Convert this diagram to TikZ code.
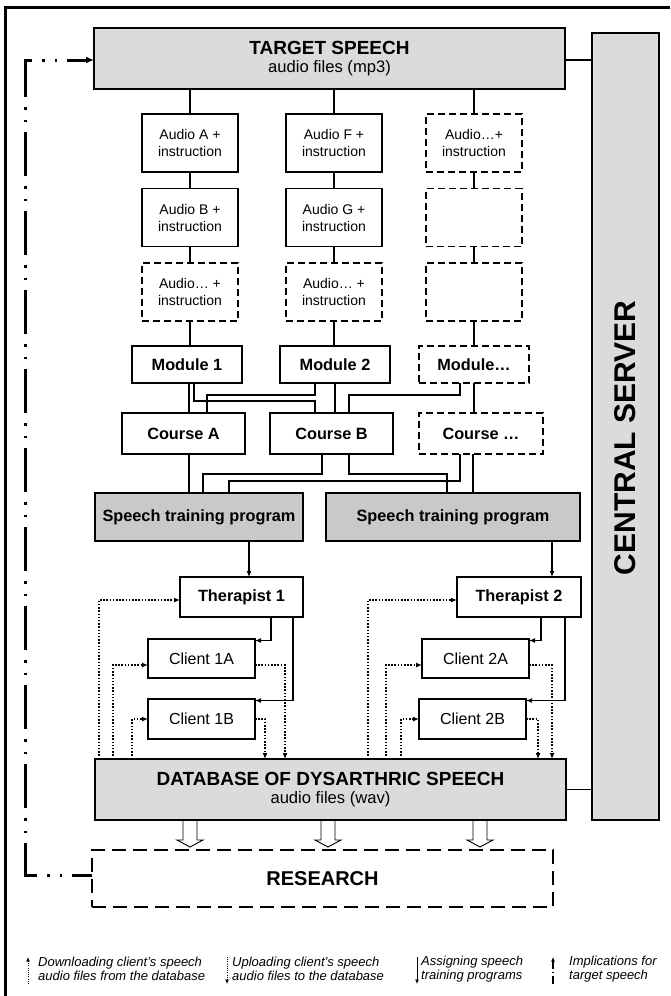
\documentclass[tikz,border=0pt]{standalone}
\usepackage{fontspec}
\setmainfont{Liberation Sans}
\usepackage{tikz}
\usetikzlibrary{arrows.meta, positioning, calc}

\definecolor{boxgrey}{gray}{0.86}
\definecolor{progrey}{gray}{0.79}

\tikzset{
  box/.style={draw, line width=1.2pt, inner sep=0pt, outer sep=0pt, align=center},
  dashbox/.style={dash pattern=on 7pt off 4pt},
  audiobox/.style={box, minimum width=96pt, minimum height=58pt, font=\fontsize{14}{17}\selectfont},
  modbox/.style={box, minimum width=110pt, minimum height=37pt, font=\fontsize{16.3}{19}\selectfont\bfseries},
  coursebox/.style={box, minimum width=123pt, minimum height=41pt, font=\fontsize{16.3}{19}\selectfont\bfseries},
  progbox/.style={box, fill=progrey, minimum height=48pt, font=\fontsize{16.3}{19}\selectfont\bfseries},
  therbox/.style={box, minimum width=123pt, minimum height=40pt, font=\fontsize{16.3}{19}\selectfont\bfseries},
  clientbox/.style={box, minimum width=107pt, minimum height=40pt, font=\fontsize{16}{19}\selectfont},
  mainbox/.style={box, fill=boxgrey, minimum width=471pt, minimum height=61pt, font=\fontsize{16.6}{18.5}\selectfont},
  link/.style={line width=1.2pt},
  assign/.style={link, -{Latex[length=6pt,width=5pt]}},
  download/.style={line width=1.5pt, dash pattern=on 1.5pt off 1.7pt, -{Latex[length=6pt,width=5pt]}},
  implication/.style={line width=3pt, dash pattern=on 44pt off 10pt on 2.5pt off 10pt on 2.5pt off 10pt, dash phase=24pt, -{Latex[length=8pt,width=7pt]}},
  legend/.style={anchor=west, align=left, inner sep=0pt, font=\fontsize{13}{14.5}\selectfont\itshape},
  keytip/.style={-{Latex[length=4.5pt,width=4pt]}},
}

\begin{document}
\begin{tikzpicture}[x=1pt, y=-1pt]
  \useasboundingbox (0,0) rectangle (670,996);
  % page frame
  \draw[line width=3pt] (5,996) -- (5,7) -- (670,7);

  % target speech, server, database, research
  \node[mainbox] (tgt) at (329.5,58.5) {{\fontsize{19}{18.5}\selectfont\bfseries TARGET SPEECH}\\audio files (mp3)};
  \node[box, fill=boxgrey, minimum width=67pt, minimum height=787pt] (srv) at (625.5,426.5) {};
  \node[rotate=90, font=\fontsize{30}{30}\selectfont\bfseries] (srvtext) at (625.5,438) {CENTRAL SERVER};
  \node[mainbox] (db) at (330.5,789.5) {{\fontsize{19}{18.5}\selectfont\bfseries DATABASE OF DYSARTHRIC SPEECH}\\audio files (wav)};
  \node[box, dash pattern=on 14pt off 7pt, minimum width=461pt, minimum height=57pt, font=\fontsize{20}{20}\selectfont\bfseries] (res) at (322.5,878.5) {RESEARCH};

  % audio files
  \node[audiobox] (aud11) at (190,143) {Audio A +\\instruction};
  \node[audiobox] (aud12) at (190,217.5) {Audio B +\\instruction};
  \node[audiobox, dashbox] (aud13) at (190,292) {Audio… +\\instruction};
  \node[audiobox] (aud21) at (334,143) {Audio F +\\instruction};
  \node[audiobox] (aud22) at (334,217.5) {Audio G +\\instruction};
  \node[audiobox, dashbox] (aud23) at (334,292) {Audio… +\\instruction};
  \node[audiobox, dashbox] (aud31) at (474,143) {Audio…+\\instruction};
  \node[audiobox, dashbox] (aud32) at (474,217.5) {};
  \node[audiobox, dashbox] (aud33) at (474,292) {};

  % modules and courses
  \node[modbox] (mod1) at (187,364.5) {Module 1};
  \node[modbox] (mod2) at (335,364.5) {Module 2};
  \node[modbox, dashbox] (modx) at (474,364.5) {Module…};
  \node[coursebox] (crsA) at (183.5,433.5) {Course A};
  \node[coursebox] (crsB) at (331.5,433.5) {Course B};
  \node[coursebox, dashbox, minimum width=124pt] (crsx) at (481,433.5) {Course …};

  % programs, therapists, clients
  \node[progbox, minimum width=208pt] (prog1) at (199,517) {Speech training program};
  \node[progbox, minimum width=254pt] (prog2) at (453,517) {Speech training program};
  \node[therbox] (ther1) at (241.5,597) {Therapist 1};
  \node[therbox, minimum width=124pt] (ther2) at (519,597) {Therapist 2};
  \node[clientbox, minimum height=39pt] (cl1a) at (201.5,658.5) {Client 1A};
  \node[clientbox] (cl1b) at (201.5,719) {Client 1B};
  \node[clientbox, minimum height=39pt] (cl2a) at (475.5,658.5) {Client 2A};
  \node[clientbox] (cl2b) at (472.5,719) {Client 2B};

  % target speech down the audio columns
  \foreach \c/\m in {1/mod1, 2/mod2, 3/modx} {
    \draw[link] (tgt.south -| aud\c1.north) -- (aud\c1.north);
    \draw[link] (aud\c1.south) -- (aud\c2.north);
    \draw[link] (aud\c2.south) -- (aud\c3.north);
    \draw[link] (aud\c3.south) -- (aud\c3.south |- \m.north);
  }

  % modules into courses
  \draw[link] ([xshift=2pt]mod1.south) -- ([xshift=2pt]mod1.south |- crsA.north);
  \draw[link] ([xshift=7pt]mod1.south) |- ([xshift=-16.5pt,yshift=12pt]crsB.north) -- ([xshift=-16.5pt]crsB.north);
  \draw[link] ([xshift=-20pt]mod2.south) |- ([xshift=23.5pt,yshift=18pt]crsA.north) -- ([xshift=23.5pt]crsA.north);
  \draw[link] (mod2.south) -- (mod2.south |- crsB.north);
  \draw[link] ([xshift=-14pt]modx.south) |- ([xshift=17.5pt,yshift=18pt]crsB.north) -- ([xshift=17.5pt]crsB.north);
  \draw[link] (modx.south) -- (modx.south |- crsx.north);

  % courses into programs
  \draw[link] ([xshift=5.5pt]crsA.south) -- ([xshift=5.5pt]crsA.south |- prog1.north);
  \draw[link] ([xshift=-9.5pt]crsB.south) |- ([xshift=4pt,yshift=19pt]prog1.north) -- ([xshift=4pt]prog1.north);
  \draw[link] ([xshift=17.5pt]crsB.south) |- ([xshift=-6pt,yshift=19pt]prog2.north) -- ([xshift=-6pt]prog2.north);
  \draw[link] ([xshift=-21pt]crsx.south) |- ([xshift=30pt,yshift=12pt]prog1.north) -- ([xshift=30pt]prog1.north);
  \draw[link] ([xshift=-8pt]crsx.south) -- ([xshift=-8pt]crsx.south |- prog2.north);

  % assigning programs
  \draw[assign] ([xshift=7.5pt]ther1.north |- prog1.south) -- ([xshift=7.5pt]ther1.north);
  \draw[assign] ([xshift=33pt]ther2.north |- prog2.south) -- ([xshift=33pt]ther2.north);
  \draw[assign] ([xshift=29.5pt]ther1.south) |- ([yshift=-1.5pt]cl1a.north east);
  \draw[assign] ([xshift=51.5pt]ther1.south) |- ([yshift=-1.5pt]cl1b.north east);
  \draw[assign] ([xshift=22pt]ther2.south) |- ([yshift=-1.5pt]cl2a.north east);
  \draw[assign] ([xshift=46pt]ther2.south) |- ([yshift=-1.5pt]cl2b.north east);

  % downloading from the database
  \draw[download] ([xshift=4pt]db.north west) |- ([yshift=-3pt]ther1.west);
  \draw[download] ([xshift=18pt]db.north west) |- ([yshift=-6.5pt]cl1a.west);
  \draw[download] ([xshift=37pt]db.north west) |- (cl1b.west);
  \draw[download] ([xshift=273pt]db.north west) |- ([yshift=-3pt]ther2.west);
  \draw[download] ([xshift=291pt]db.north west) |- ([yshift=-6.5pt]cl2a.west);
  \draw[download] ([xshift=306pt]db.north west) |- (cl2b.west);

  % uploading to the database
  \draw[download] ([yshift=-6.5pt]cl1a.east) -| ([xshift=190pt]db.north west);
  \draw[download] (cl1b.east) -| ([xshift=170pt]db.north west);
  \draw[download] ([yshift=-6.5pt]cl2a.east) -| ([xshift=457pt]db.north west);
  \draw[download] (cl2b.east) -| ([xshift=443pt]db.north west);

  % central server links
  \draw[link] ([yshift=-1.5pt]tgt.east) -- ([yshift=-1.5pt]tgt.east -| srv.west);
  \draw[link] (db.east) -- (db.east -| srv.west);

  % database to research
  \foreach \dx in {-140.5,-2.5,149.5}
    \draw[line width=0.9pt, fill=white] ($(db.south)+(\dx-7,1)$) -- ++(0,19) -- ++(-6,0) -- ++(13,7) -- ++(13,-7) -- ++(-6,0) -- ++(0,-19);

  % implications for target speech
  \draw[implication] ([yshift=3.5pt]res.west) -- ++(-67,0) |- ([yshift=-1.5pt]tgt.west);

  % legend
  \node[legend] (key1) at (38,969) {Downloading client's speech\\audio files from the database};
  \node[legend] (key2) at (232,969) {Uploading client's speech\\audio files to the database};
  \node[legend] (key3) at (421,969) {Assigning speech\\training programs};
  \node[legend] (key4) at (569,969) {Implications for\\target speech};
  \draw[download, line width=1pt, dash pattern=on 1pt off 1.2pt, keytip] ($(key1.west)+(-10,15)$) -- ($(key1.west)+(-10,-12)$);
  \draw[download, line width=1pt, dash pattern=on 1pt off 1.2pt, keytip] ($(key2.west)+(-5,-12)$) -- ($(key2.west)+(-5,15)$);
  \draw[link, line width=1pt, keytip] ($(key3.west)+(-4,-12)$) -- ($(key3.west)+(-4,15)$);
  \draw[line width=1.2pt, dash pattern=on 8pt off 3pt on 1.5pt off 3pt, keytip] ($(key4.west)+(-16,15)$) -- ($(key4.west)+(-16,-12)$);
\end{tikzpicture}
\end{document}
